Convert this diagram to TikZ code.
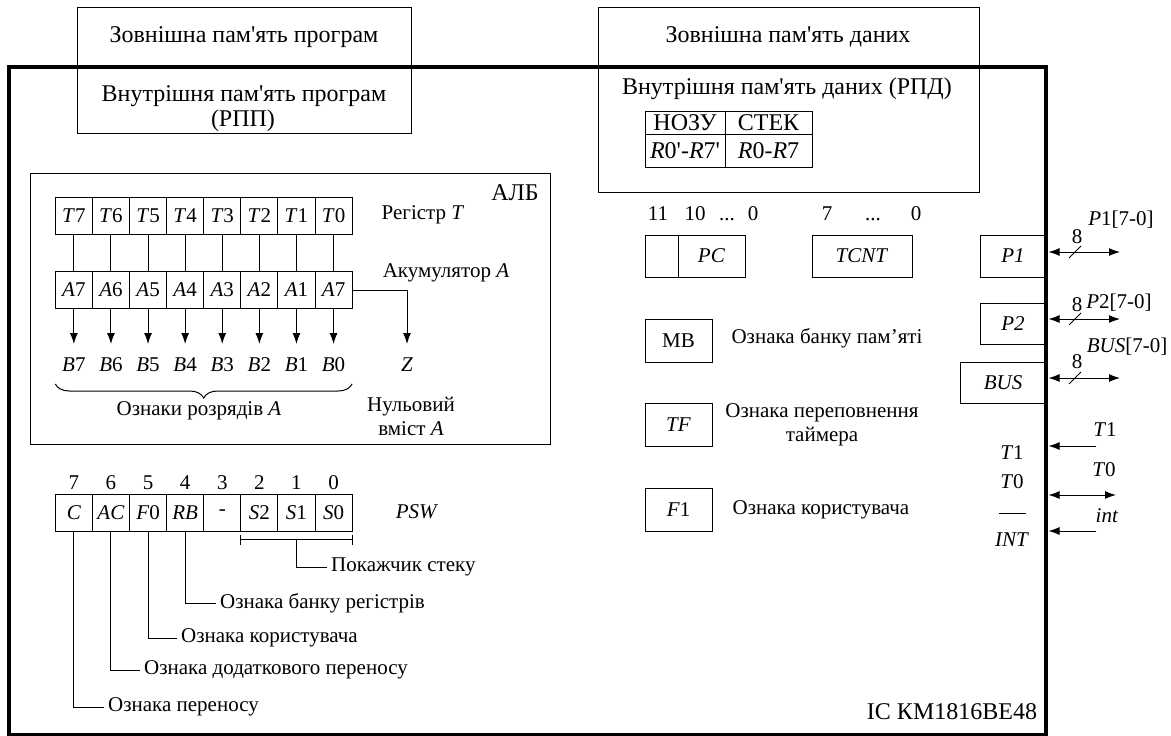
\documentclass[tikz,border=0pt]{standalone}
\usepackage{fontspec}
\setmainfont{Liberation Serif}
\usetikzlibrary{arrows.meta,decorations.pathreplacing,calc}
\newcommand{\apos}{\textquotesingle}
\begin{document}
\begin{tikzpicture}[x=1pt,y=-1pt,
  font=\fontsize{21}{24}\selectfont,
  cell/.style={draw, line width=1pt, minimum width=37.1pt, minimum height=37pt, inner sep=0pt},
  box/.style={draw, line width=1pt, inner sep=0pt},
  txt/.style={inner sep=0pt},
  num/.style={inner sep=0pt, anchor=base},
  big/.style={font=\fontsize{24}{28}\selectfont},
  thin/.style={line width=1pt},
  arr/.style={line width=1pt, -{Latex[length=11pt,width=8pt]}},
  darr/.style={line width=1pt, {Latex[length=11pt,width=8pt]}-{Latex[length=11pt,width=8pt]}},
  frame/.style={line width=3.8pt},
  lead/.style={inner xsep=4pt, inner ysep=0pt, anchor=west}]
\useasboundingbox (0,0) rectangle (1171,736);

% microcontroller outline
\draw[frame] (9,67) rectangle (1046,735);

% program memory
\node[box, minimum width=334pt, minimum height=126pt] (prog) at (244,70) {};
\node[txt, big] (progext) at (244,37) {Зовнішна пам\apos ять програм};
\node[txt, big] (progint) at (244,96) {Внутрішня пам\apos ять програм};
\node[txt, big] (progrpp) at (243,121) {(РПП)};

% data memory
\node[box, minimum width=381pt, minimum height=185pt] (data) at (788.5,99.5) {};
\node[txt, big] (dataext) at (788,37) {Зовнішна пам\apos ять даних};
\node[txt, big] (dataint) at (787,89) {Внутрішня пам\apos ять даних (РПД)};
\node[box, big, minimum width=80pt, minimum height=23pt] (nozu) at (685,122.5) {НОЗУ};
\node[box, big, minimum width=87pt, minimum height=23pt] (stek) at (768.5,122.5) {СТЕК};
\node[box, big, minimum width=80pt, minimum height=33pt] (regb) at (685,150.5) {\textit{R}0\apos-\textit{R}7\apos};
\node[box, big, minimum width=87pt, minimum height=33pt] (rega) at (768.5,150.5) {\textit{R}0-\textit{R}7};

% arithmetic-logic unit
\node[box, minimum width=520pt, minimum height=271pt] (alb) at (290,308.5) {};
\node[txt, big] (albt) at (515,193) {АЛБ};
\foreach \lab [count=\i from 0] in {7,6,5,4,3,2,1,0}
  \node[cell] (t\i) at ({55.3+37.1*(\i+0.5)},215.5) {\textit{T}\lab};
\foreach \lab [count=\i from 0] in {7,6,5,4,3,2,1,7}
  \node[cell] (a\i) at ({55.3+37.1*(\i+0.5)},290) {\textit{A}\lab};
\foreach \lab [count=\i from 0] in {7,6,5,4,3,2,1,0} {
  \draw[thin] (t\i.south) -- (a\i.north);
  \coordinate (bt\i) at ({55.3+37.1*(\i+0.5)},344);
  \draw[arr] (a\i.south) -- (bt\i);
  \node[txt] (b\i) at ({55.3+37.1*(\i+0.5)},365) {\textit{B}\lab};
}
\node[txt] (regt) at (423,215) {Регістр \textit{T}};
\node[txt] (acc) at (446,273) {Акумулятор \textit{A}};
\coordinate (zt) at (407,344);
\draw[arr] (a7.east) -| (zt);
\node[txt] (z) at (407,365) {\textit{Z}};
\draw[thin, decorate, decoration={brace, mirror, amplitude=14pt}] (55.3,384) -- (352.1,384);
\node[txt] (bits) at (199,411) {Ознаки розрядів \textit{A}};
\node[txt, align=center] (zero) at (411,416) {Нульовий\\вміст \textit{A}};

% program status word
\foreach \num/\lab [count=\i from 0] in {7/\textit{C},6/\textit{AC},5/\textit{F}0,4/\textit{RB},3/-,2/\textit{S}2,1/\textit{S}1,0/\textit{S}0} {
  \node[cell] (p\i) at ({55.3+37.1*(\i+0.5)},512.5) {\lab};
  \node[num] (n\i) at ({55.3+37.1*(\i+0.5)},489) {\num};
}
\node[txt] (psw) at (417,512) {\textit{PSW}};
\coordinate (brl) at ($(p5.south west)+(0,8)$);
\coordinate (brr) at ($(p7.south east)+(0,8)$);
\draw[thin] (brl) -- (brr);
\draw[thin] ($(brl)+(0,-5)$) -- ($(brl)+(0,5)$);
\draw[thin] ($(brr)+(0,-5)$) -- ($(brr)+(0,5)$);
\coordinate (brm) at (p6.south |- brl);
\node[lead] (stk) at (327,567) {Покажчик стеку};
\node[lead] (rbl) at (216,603) {Ознака банку регістрів};
\node[lead] (f0l) at (177,638) {Ознака користувача};
\node[lead] (acl) at (140,670) {Ознака додаткового переносу};
\node[lead] (cl) at (104,707) {Ознака переносу};
\draw[thin] (brm) |- (stk.west);
\draw[thin] (p3.south) |- (rbl.west);
\draw[thin] (p2.south) |- (f0l.west);
\draw[thin] (p1.south) |- (acl.west);
\draw[thin] (p0.south) |- (cl.west);

% program counter and timer
\node[num] (pc11) at (658,220) {11};
\node[num] (pc10) at (695,220) {10};
\node[num] (pcdots) at (727,220) {...};
\node[num] (pc0) at (753,220) {0};
\node[box, minimum width=33pt, minimum height=42pt] (pch) at (661.5,256) {};
\node[box, minimum width=67pt, minimum height=42pt] (pc) at (711.5,256) {\textit{PC}};
\node[num] (tc7) at (827,220) {7};
\node[num] (tcdots) at (873,220) {...};
\node[num] (tc0) at (916,220) {0};
\node[box, minimum width=100pt, minimum height=42pt] (tcnt) at (862,256) {\textit{TCNT}};

% flags
\node[box, minimum width=67pt, minimum height=43pt] (mb) at (678.5,340.5) {MB};
\node[txt] (mbl) at (827,338) {Ознака банку пам’яті};
\node[box, minimum width=67pt, minimum height=43pt] (tf) at (678.5,424.5) {\textit{TF}};
\node[txt, align=center] (tfl) at (822,425) {Ознака переповнення\\таймера};
\node[box, minimum width=67pt, minimum height=43pt] (f1) at (678.5,509.5) {\textit{F}1};
\node[txt] (f1l) at (821,510) {Ознака користувача};

% ports
\node[box, minimum width=66pt, minimum height=42pt] (pp1) at (1013,256) {\textit{P1}};
\node[box, minimum width=66pt, minimum height=41pt] (pp2) at (1013,323.5) {\textit{P2}};
\node[box, minimum width=86pt, minimum height=41pt] (bus) at (1003,382.5) {\textit{BUS}};
\coordinate (p1o) at (1120,252);
\coordinate (p2o) at (1120,319);
\coordinate (buso) at (1120,378);
\draw[darr, shorten <=2pt] (p1o -| pp1.east) -- (p1o);
\draw[darr, shorten <=2pt] (p2o -| pp2.east) -- (p2o);
\draw[darr, shorten <=2pt] (buso -| bus.east) -- (buso);
\foreach \c/\y in {s1/252,s2/319,s3/378} {
  \coordinate (\c) at (1075,\y);
  \draw[thin] ($(\c)+(-6,6)$) -- ($(\c)+(6,-6)$);
}
\node[txt] (w1) at (1077,237) {8};
\node[txt] (w2) at (1077,305) {8};
\node[txt] (w3) at (1077,362) {8};
\node[txt] (p1n) at (1121,220) {\textit{P}1[7-0]};
\node[txt] (p2n) at (1119,303) {\textit{P}2[7-0]};
\node[txt] (busn) at (1127,347) {\textit{BUS}[7-0]};

% timer and interrupt lines
\node[txt] (t1in) at (1012,453) {\textit{T}1};
\node[txt] (t0in) at (1012,482) {\textit{T}0};
\node[txt] (intin) at (1012,540) {\textit{INT}};
\draw[thin] ($(intin.north)+(-13.5,-19)$) -- ($(intin.north)+(13.5,-19)$);
\coordinate (t1o) at (1096,446);
\coordinate (t0o) at (1116,495);
\coordinate (into) at (1096,531);
\draw[arr, shorten >=2pt] (t1o) -- (t1o -| pp1.east);
\draw[darr, shorten <=2pt] (t0o -| pp1.east) -- (t0o);
\draw[arr, shorten >=2pt] (into) -- (into -| pp1.east);
\node[txt] (t1n) at (1105,430) {\textit{T}1};
\node[txt] (t0n) at (1104,470) {\textit{T}0};
\node[txt] (intn) at (1107,516) {\textit{int}};

\node[txt, big] (chip) at (952,712) {ІС КМ1816ВЕ48};
\end{tikzpicture}
\end{document}
